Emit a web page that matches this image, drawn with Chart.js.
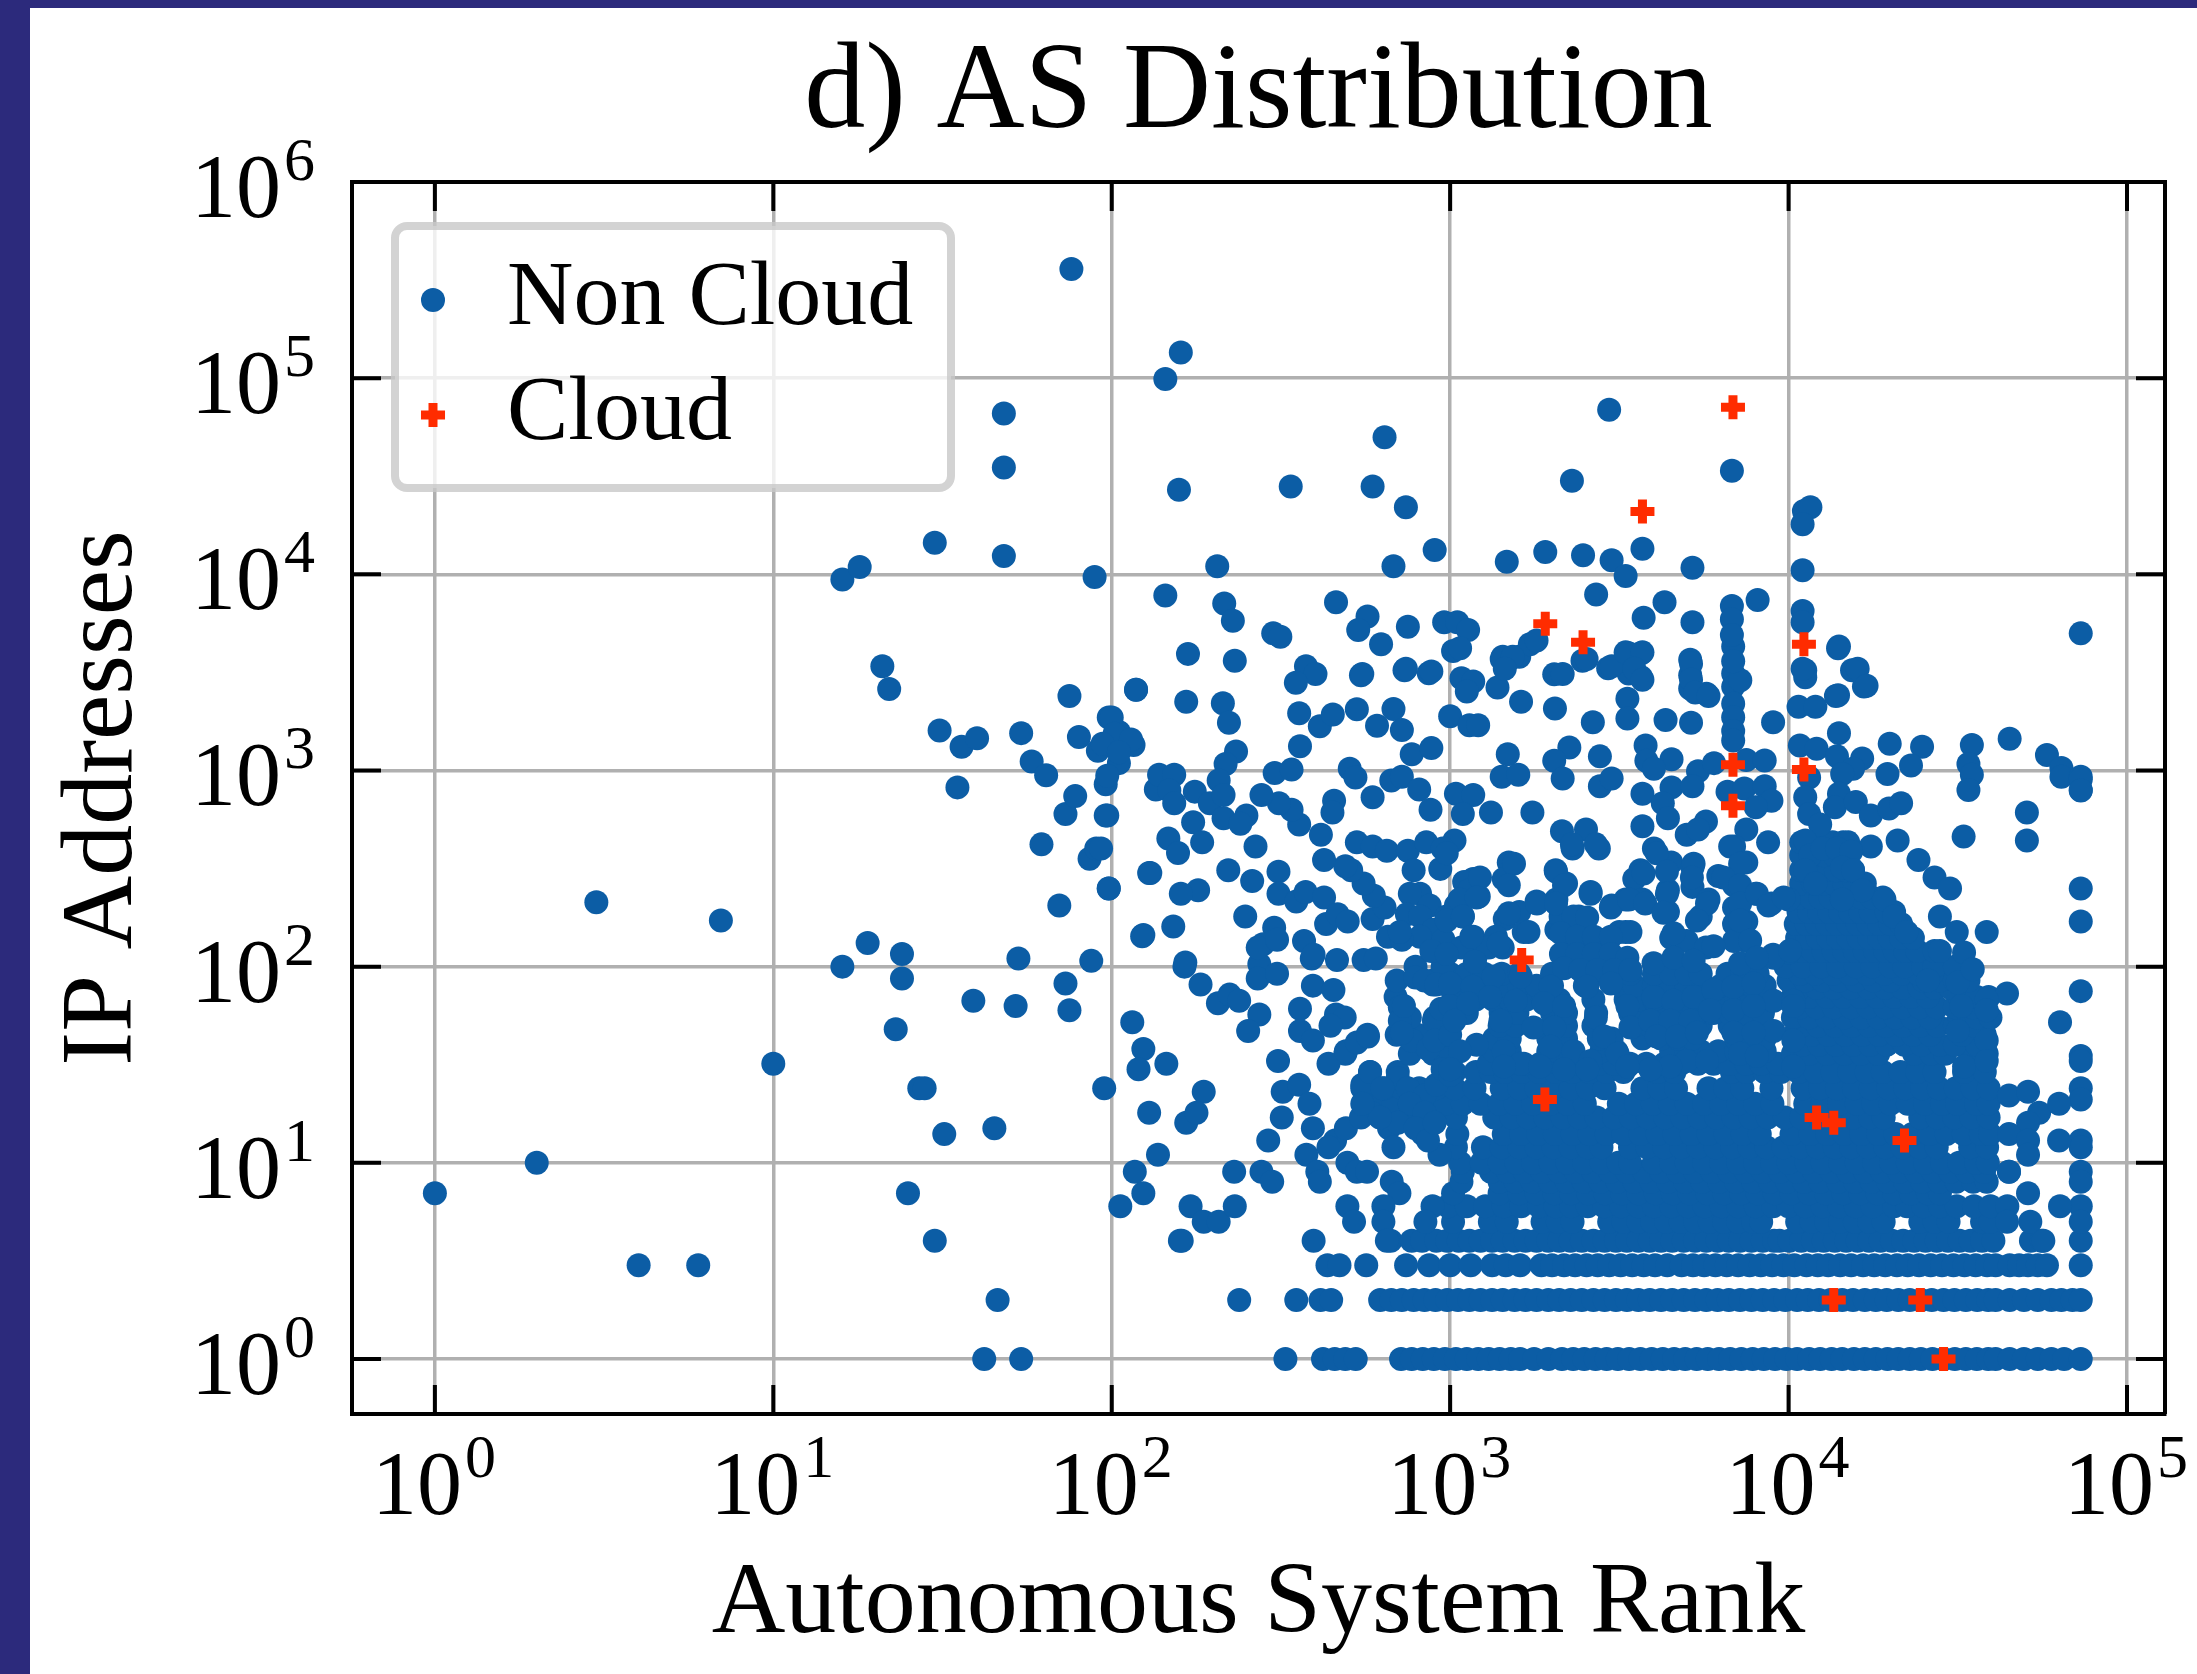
<!DOCTYPE html>
<html>
<head>
<meta charset="utf-8">
<script src="https://cdn.jsdelivr.net/npm/chart.js@4"></script>
<style>
  html, body { margin: 0; background: #2c2a7c; overflow: hidden; }
  #sheet { position: absolute; left: 30px; top: 8px; width: 2167px; height: 1666px; background: #fff; }
</style>
</head>
<body>
<div id="sheet"><canvas id="chart" width="2167" height="1666"></canvas></div>
<script>
// Tick values and labels (base 10, exponent drawn raised)
const xTickValues = [1, 10, 100, 1000, 10000, 100000];
const xTickExponents = ['0', '1', '2', '3', '4', '5'];
const yTickValues = [1, 10, 100, 1000, 10000, 100000, 1000000];
const yTickExponents = ['0', '1', '2', '3', '4', '5', '6'];

// Cloud ASes, [rank, ip addresses]
const cloudPoints = [[6850,71000],[3700,20900],[1910,5600],[2470,4500],[11100,4400],[6850,1070],[11100,1010],[6850,660],
  [1627,108],[1905,21],[12100,17],[13600,16],[22000,13],[13600,2],[24500,2],[28700,1]];

// Non cloud: ranks sitting on the low integer rows
const ranksAt1 = [326,421,456,490,526,716,770,830,895,965,1040,1120,1210,1300,1400,1510,1610,1770,1950,2140,2310,2490,2690,2900,3130,3380,3650,3940,4250,4590,4950,5350,5770,6230,6720,7250,7830,8450,9120,9850,10600,11500,12400,13400,14400,15600,16800,18100,19600,21100,22800,24600,26600,28700,31000,33400,36000,38900,40900,45000,49600,54500,59800,65200,73000];
const ranksAt2 = [238,351,414,445,621,670,720,780,840,905,980,1055,1140,1230,1330,1430,1550,1670,1800,1950,2100,2270,2450,2650,2860,3090,3330,3600,3890,4200,4530,4900,5290,5710,6170,6660,7190,7770,8390,9060,9780,10600,11400,12300,13300,14400,15500,16800,18100,19500,21100,22800,24600,26500,28700,30900,33400,36100,38900,40900,45000,49600,54500,59800,64000,69000,73000];
const ranksAt3 = [4,6,434,471,565,741,867,1000,1150,1330,1460,1610,1860,2000,2170,2340,2530,2730,2950,3190,3450,3730,4030,4380,4830,5220,5630,6080,6570,7100,7670,8280,8940,9660,10400,11300,12200,13100,14200,15300,16600,17900,19300,20900,22500,24300,26300,28400,30700,33100,35700,38600,40900,45000,48000,51000,54500,58000,73000];
const ranksAt4 = [30,159,395,667,770,826,910,980,1060,1140,1230,1330,1430,1550,1670,1800,1950,2100,2270,2450,2650,2860,3090,3330,3600,3890,4200,4530,4900,5290,5710,6170,6660,7190,7770,8390,9060,9400,10050,10900,11800,12700,13700,14800,16000,17300,18700,20200,21800,23500,25400,27400,29600,32000,34500,37300,40300,52000,56000,73000];

// Non cloud: dense body, one list of ranks per ip address level
const bodyLevels = [5,6,7,8,9,10,12,14,17,20,24,29,32,36,37,40,43,45,50,55,58,62,68,70,78,80,85,92,100,120,140,165,190,225,265,310,370,430];
const bodyRanks = [
  [1020,1310,1470,1875,2080,2300,2950,3250,3600,3950,4350,4800,5300,5850,6450,7100,7850,8300,10600,11700,12900,14200,15700,17300,19100,24500,27000,29700,37300,39500],
  [985,1120,1270,1440,1620,1830,2050,2280,2550,2850,3200,3600,4000,4500,5050,5650,6350,7100,8000,9000,10000,11200,12600,14100,15800,17700,20500,22400,25000,28000,31400,35300,39500,44300],
  [1020,1400,1600,1800,2030,2280,2560,2870,3220,3600,4050,4550,5100,5750,6450,7250,8100,9100,10200,11500,12900,14500,16300,18300,20500,23000,25800,28000],
  [1080,1400,1560,1750,1970,2210,2480,2780,3120,3500,3930,4410,4950,5550,6230,6990,7850,8800,9880,11100,12400,14000,15700,17600,19700,22100,24800,27900,31300,35100,38500],
  [1090,1320,1480,1660,1870,2100,2350,2640,2970,3330,3740,4200,4720,5290,5940,6670,7490,8410,9440,10600,11900,13400,15000,16800,18900,21200,23800,26700,30000,33700,37800,44800],
  [1070,1240,1400,1570,1760,1980,2220,2490,2800,3140,3400,4000,4500,5000,5630,6320,7090,7960,8940,10000,11300,12600,14200,15900,17900,20100,22500,25300,28400,31900,35800,38800],
  [1040,1250,1420,1600,1800,2020,2270,2550,2800,3400,3820,4290,4820,5410,6080,6820,7660,8600,9660,10800,12200,13700,15300,17200,19300,21700,24400,27400,34400,38600],
  [1050,1440,1620,1820,2040,2300,2580,2900,3250,3650,4100,4600,5170,5800,6520,7320,8220,10200,11600,13000,14600,16400,18400,20700,23200,26100,29300,32900,37000,39400],
  [660,780,900,1040,1350,1520,1700,1910,2150,2410,2710,3050,3420,3840,4320,4850,5450,6120,6880,7730,8680,9750,10900,12300,13800,15500,17400,19100,24500,27500,30900,34700,39000],
  [600,680,760,860,970,1090,1230,1400,1560,1760,1980,2220,2500,3150,3540,3970,4460,5000,5630,6320,7100,7970,8960,11200,12600,14100,15900,17800,20000,22500,25300,28400,31500,35800,39000],
  [550,640,720,810,910,1030,1180,1420,1600,1800,2020,2270,2550,2860,3700,4150,4650,5800,6500,7300,8900,11000,12400,13900,15600,17500,19700,22100,24800,27800,31200,35000,39000],
  [580,700,1030,1190,1320,1450,1630,1830,2050,2300,2580,2900,3250,4100,4600,6800,7500,8500,9500,10700,12000,13500,15100,17000,19000,21400,24000,27000,33000,38000],
  [1000,1300,1450,1650,1850,2100,2400,2750,3050,3400,3800,4300,4800,5400,6000,6700,7500,8300,9300],
  [490,760,890,10300,11500,13000,14600,16400,18400,23500,26400,29000,34500,38500],
  [1000,1350,1500,1950,2200,2800,3100,4500,5000,5500,6200,7000,7800,8500],
  [11000,12300,13800,15500,17400,19500,22000,24700,28000,31000,36000],
  [1350,1500,1950,2200,2750,3000,3700,4200,4700,5200,7000,7800,8500],
  [570,695,800,950,10400,11700,13100,14700,16500,18500,20800,23300,26200,32500,38000],
  [1000,1400,1560,2000,2200,2650,3500,3900,4400,4900,5500,6700,7500,8400,10900,12200,13700,15400,17300,19400,21800,24500,27500,31000,35500],
  [760,900,10300,11500,13000,14600,16400,18400,20700,23200,26100,32000,36000,39500],
  [1000,1120,1410,1580,2000,2200,2700,3400,3800,4300,4800,5400,6000,6700,7500,8400],
  [10800,12100,13600,15300,17200,19300,21700,24400,27400,31000,35000],
  [1060,1190,1340,1500,1680,1880,2100,2650,3300,3600,4000,4500,5000,5600,6300,7000,7800,8800],
  [690,10300,11500,13000,14500,16300,18300,20500,23000,25800,32000,36000,39000],
  [10800,12100,13600,15300,17200,19300,21700,24400,27000,30000],
  [1000,1120,1260,1420,1600,1800,2000,2500,3200,3500,4000,4500,5000,5600,6300,7000,7800,8500,10300],
  [695,890,10000,11200,12600,14100,15800,17800,20000,25000,28000,31000,34000],
  [1000,1120,1260,1420,1600,2000,2500,2800,3100,3400,4000,4500,5000,5500,6600,7300,8100,10800,12000,13500,15200,17100,19200,21600,24200,26500],
  [790,950,9800,11000,12500,14000,15800,17700,20000,22000,25000,27000,31000],
  [10300,11000,11800,12700,13600,14600,15700,16800,18000,19300,20600,22100,24000,27000],
  [10600,11400,12200,13100,14000,15000,16100,17300,18500,19900,21500,23300],
  [10500,11300,12100,13000,13900,15000,16000,17200,18500,20000,21500],
  [10700,11500,12300,13200,14200,15200,16300,17500,19500,20500],
  [10800,11600,12400,13300,14300,15300,16400,17600,19000],
  [10900,11800,12700,13600,14600,15700,16800],
  [10900,11800,12800,13800,14800,15500],
  [10900,11800,12700,13700,14700],
  [10900,11700,12500,13500,14500,15000]
];

// Non cloud: low ranks, [rank, ip addresses]
const headPoints = [[1,7],[2,10],[3,213],[7,172],[10,32],[16,9400],[18,10900],[16,100],[19,132],[21,3400],[22,2600],
  [24,116],[24,87],[23,48],[27,24],[28,24],[32,14],[25,7],[30,14500],[31,1600],[36,1320],[40,1460],[35,820],
  [48,66000],[48,35000],[48,12400],[39,67],[45,15],[46,2],[42,1],[54,1],[53,110],[52,63],[54,1550],[58,1110],[64,945],
  [62,420],[70,205],[73,82],[75,60],[75,2400],[73,600],[78,740],[80,1480],[76,360000],[86,355],[87,107],[89,9700],
  [90,400],[91,1260],[95,24],[96,850],[96,590],[98,1860],[98,250],[105,1570],[105,1090],[116,1350],[118,2580],[124,145],
  [130,300],[135,800],[144,99000],[144,7800],[158,27000],[160,135000]];

// Non cloud: scattered points above and left of the body
const scatterLeft = [[164,100],[183,81],[206,65],[223,72],[238,67],[273,57],[253,47],[115,52],[124,38],[120,30],[145,32],
  [129,18],[187,23],[166,16],[178,18],[137,11],[117,9],[124,7],[106,6],[230,9],[277,9],[298,8],[171,6],[187,5],[207,5],
  [231,6],[161,4],[290,13],[310,33],[320,23],[358,25],[318,17],[384,20],[393,15],[273,103],[270,87],[308,92],[390,110],
  [463,108],[555,108],[603,110],[393,80],[452,76],[360,61],[460,57],[488,55],[443,50],[360,47],[393,42],[437,32],[492,37],
  [530,41],[572,44],[376,11],[405,9],[412,8],[497,10],[530,9],[568,9],[672,8],[708,7],[497,6],[520,5],[635,6],[635,5],
  [887,6],[845,5],[650,4],[550,25],[580,29],[700,27],[750,24],[840,22],[585,18],[660,15],[680,12],[830,14],[930,11],
  [457,13],[437,12],[492,15],[545,17],[710,62],[890,81],[790,88],[895,53],[630,24],[760,20],[840,18],[700,16],[790,15],
  [860,13],[900,16],[620,17],[550,20],[910,25],[950,30],[1000,28],[710,53],[770,42],[860,38],[730,63],[720,46],[900,42],
  [1000,45],[940,61],[840,85],[910,81],[1020,73],[1070,65]];
const scatterMiddle = [[168,3930],[231,3630],[118,2580],[166,2240],[213,2200],[222,1750],[100,1860],[102,1540],[114,1440],
  [94,1370],[105,1240],[97,940],[97,590],[93,400],[98,250],[233,1250],[217,1080],[207,890],[138,950],[153,950],[148,790],
  [153,680],[176,780],[195,680],[214,750],[214,570],[250,590],[240,535],[174,545],[147,450],[157,380],[185,430],[266,410],
  [129,300],[221,310],[260,273],[311,305],[311,235],[351,215],[374,240],[424,225],[180,245],[160,235],[248,180],[152,160],
  [123,143],[302,158],[280,130],[370,135],[395,115],[165,105],[270,125],[308,137],[430,165],[465,185],[498,170],[590,175],
  [640,200],[595,230],[555,265],[510,310],[490,325],[424,350],[415,470],[358,530],[340,630],[312,680],[277,750],[454,700],
  [449,610],[303,970],[340,1010],[360,1330],[358,1960],[412,1680],[450,1930],[530,2050],[608,1690],[680,2060],[720,1610],
  [770,1210],[880,1300],[505,1020],[525,920],[590,730],[670,890],[720,930],[810,800],[875,630],[1040,760],[1170,750],
  [1090,600],[1320,610],[1750,610],[530,430],[590,410],[650,390],[750,390],[850,430],[1030,440],[950,400],[780,310],
  [935,315],[1490,340],[1440,280],[1170,280],[1100,270],[733,3240],[865,3130],[545,3060],[1020,4070],[1080,2950],
  [1170,2840],[1120,2530],[1380,2650],[1620,2240],[2040,2070],[2030,3090],[2460,3630],[2930,3320],[2640,1760],[1000,1890],
  [1140,1700],[1210,1700],[1480,1210],[2250,1310],[2030,1120],[2770,1180],[1420,930],[1590,950],[2150,910],[2770,830],
  [3000,910],[1430,3800],[1500,3700],[1600,3800],[1720,4400],[2140,490],[2300,400],[2520,500],[2750,400],[2050,310],
  [2200,265],[2600,240],[3000,205],[1800,215],[1600,190],[1450,175],[1650,150],[2060,220],[2400,180],[815,235],[760,235],
  [870,205],[745,185],[815,180],[891,154],[815,142],[975,180],[1040,205],[1140,245],[1215,228],[1090,180],[1170,142],
  [955,137],[655,142],[720,137],[1365,142],[1430,125],[1190,113],[2060,154],[2280,137],[2550,142],[2870,137],[3160,150],
  [2450,165],[2120,180],[710,150],[880,120],[1080,125],[1300,125]];
const scatterRight = [[3670,3960],[3370,3960],[3370,3470],[3660,3000],[3370,3120],[3340,2320],[3340,1840],[5120,3670],
  [5120,3060],[5120,2620],[5720,2460],[4330,1810],[5150,1750],[6860,4290],[6860,3120],[6860,2670],[6860,2190],[6860,1870],
  [6860,1590],[6860,1420],[7200,2880],[6860,3600],[9000,1760],[11200,3240],[11200,2990],[14090,4290],[15400,3240],
  [16700,2680],[14000,2420],[10700,2110],[12000,2110],[14090,1550],[10800,1340],[12100,1290],[11500,920],[19900,1370],
  [24800,1320],[23000,1060],[19600,960],[34800,1350],[34000,1080],[34800,950],[34000,795],[45000,1450],[58000,1200],
  [64000,1030],[64000,930],[73000,930],[73000,795],[50600,610],[50600,440],[32900,460],[21000,440],[17500,410],[24200,350],
  [27000,285],[30000,250],[28000,180],[31400,150],[38500,150],[33000,118],[28000,120],[13900,1180],[16500,1150],[15500,1020],
  [14400,960],[14090,760],[13700,650],[15800,690],[17500,590],[19800,640],[21500,680],[11200,730],[11500,600],[12400,530],
  [11200,440],[11600,370],[12600,400],[13900,400],[15300,385],[14400,320],[15500,310],[11200,310],[12000,265],[16500,245],
  [14400,220],[19200,220],[20500,180],[22300,150],[3780,1340],[3800,1120],[4510,1140],[4000,1020],[3700,760],[4510,820],
  [5400,990],[6020,1090],[7500,1130],[8500,1125],[5200,830],[4250,680],[6600,780],[7400,810],[8500,830],[8900,700],[8000,650],
  [3700,520],[4400,570],[5000,470],[5700,550],[5400,500],[7500,500],[6900,410],[8700,430],[7500,340],[4000,400],[4500,340],
  [5200,320],[3650,310],[3500,280],[6200,290],[6900,260],[8000,235],[8900,210],[10000,220],[3300,220],[3700,220],[4400,245],
  [5200,255],[5800,220],[4400,190],[5500,180],[3300,150],[4500,140],[5000,135],[5700,125],[6900,200],[6900,165],[7500,170],
  [7500,135],[6900,135],[9000,115],[10000,118]];
const scatterTop = [[338,28000],[590,28000],[640,50000],[740,22000],[680,11000],[205,11000],[900,13300],[1470,11600],
  [1910,13000],[2290,30000],[2950,69000],[2470,12500],[3000,11800],[3300,9800],[3700,13500],[5200,10800],[6800,33700],
  [2700,7900],[215,7100],[460,7200],[228,5800],[300,5000],[315,4800],[570,6100],[535,5200],[750,5400],[625,4400],[960,5700],
  [1050,5700],[1130,5200],[1070,4200],[375,3400],[400,3100],[350,2800],[550,3100],[740,3300],[880,3200],[1420,3700],
  [1530,3800],[1450,3300],[1800,4600],[2530,3700],[3730,6000],[4300,7200],[5200,5700],[3000,3400],[3300,4000],[3700,4000],
  [3500,3300],[3700,2900],[2150,3100],[5150,3500],[5150,2900],[5300,2500],[5800,2400],[6800,6900],[6800,5900],[6800,4900],
  [8100,7400],[11000,6500],[11000,5700],[11000,3300],[11100,21000],[11600,22000],[11000,18000],[11000,10500],[14000,4200],
  [16000,3300],[17000,2700],[13800,2400]];
// Non cloud: the last rank column and the thin right edge
const scatterEdge = [[73000,5000],[73000,900],[73000,790],[73000,250],[73000,170],[73000,75],[73000,35],[73000,33],[73000,24],
  [73000,21],[73000,13],[73000,12],[73000,9],[73000,8],[73000,6],[73000,5],[44200,73],[63400,52],[55000,18],[51000,16],
  [44800,22],[51000,23],[44800,14],[51000,13],[63000,20],[63000,13],[51000,11],[44800,9],[51000,7],[63400,6],[44200,5],[51800,5],
  [56600,4],[38500,68],[38500,60],[31600,83],[25800,85],[32400,63],[31600,47],[38500,42],[33000,31],[38500,33],[35000,97]];
// Non cloud: middle of the body, 400 down to 30 addresses
const scatterBody = [[977,378],[1225,285],[1544,335],[1490,260],[1066,220],[1197,225],[977,172],[1090,180],[1155,142],[1391,131],
  [1183,106],[977,116],[1490,187],[1704,150],[1805,210],[2055,305],[2170,260],[2055,210],[2315,180],[2540,178],[2600,235],
  [2985,200],[3375,220],[3770,210],[3410,150],[2290,420],[2695,420],[2125,148],[2370,142],[2660,142],[2985,142],[2125,116],
  [2370,116],[2660,116],[2985,116],[3340,111],[2170,98],[2425,96],[2725,96],[3055,96],[3410,96],[2540,79],[2985,82],
  [4080,378],[4370,305],[3730,298],[4370,235],[4270,188],[4570,148],[5240,335],[5180,285],[5740,210],[5360,172],[6000,127],
  [6720,410],[7190,335],[6420,285],[7190,260],[7190,210],[7190,172],[7700,136],[8060,235],[8720,205],[9670,225],[9030,111],
  [10100,121],[3990,104],[4570,111],[5240,107],[7190,104],[8060,111],[3990,70],[4570,67],[5240,70],[6000,76],[6870,79],
  [7880,82],[9030,67],[10330,67],[3340,63],[3410,49],[3900,53],[4470,53],[5120,53],[5870,60],[6870,60],[7880,63],[9030,47],
  [4080,44],[4680,44],[5360,46],[6870,46],[7880,46],[7190,36],[8060,35],[10330,63],[10330,42],[10330,31],[5000,33],[5740,33],
  [4470,31],[3900,30],[1000,82],[1165,79],[1343,89],[1617,89],[1000,63],[1130,65],[1312,70],[1562,67],[1030,53],[1408,53],
  [1197,40],[1070,37],[1980,79],[1891,65],[2170,63],[1763,49],[2030,49],[1441,37],[1617,32],[1441,31],[1980,39],[2315,37],
  [2600,33],[1845,31],[2170,30],[2695,55],[2850,44],[3125,36],[3340,31],[2540,30],[1000,30]];

const nonCloudPoints = [];
[ranksAt1, ranksAt2, ranksAt3, ranksAt4].forEach((ranks, i) => ranks.forEach(r => nonCloudPoints.push({x: r, y: i + 1})));
bodyLevels.forEach((ip, i) => bodyRanks[i].forEach(r => nonCloudPoints.push({x: r, y: ip})));
[headPoints, scatterLeft, scatterMiddle, scatterRight, scatterTop, scatterEdge, scatterBody].forEach(list =>
  list.forEach(p => nonCloudPoints.push({x: p[0], y: p[1]})));

const FONT = '"Liberation Serif", serif';

// Inward ticks on all four sides plus the top and right spines
const frame = {
  id: 'frame',
  afterDatasetsDraw(chart) {
    const {ctx, chartArea: a, scales: {x, y}} = chart;
    const len = 29;
    ctx.save();
    ctx.strokeStyle = '#000';
    ctx.lineWidth = 4;
    ctx.beginPath();
    ctx.moveTo(a.left, a.top); ctx.lineTo(a.right, a.top); ctx.lineTo(a.right, a.bottom);
    xTickValues.forEach(v => {
      const px = x.getPixelForValue(v);
      ctx.moveTo(px, a.bottom); ctx.lineTo(px, a.bottom - len);
      ctx.moveTo(px, a.top); ctx.lineTo(px, a.top + len);
    });
    yTickValues.forEach(v => {
      const py = y.getPixelForValue(v);
      ctx.moveTo(a.left, py); ctx.lineTo(a.left + len, py);
      ctx.moveTo(a.right, py); ctx.lineTo(a.right - len, py);
    });
    ctx.stroke();
    ctx.restore();
  },
  // 10 with a raised exponent, placed from the scales
  afterDraw(chart) {
    const {ctx, chartArea: a, scales: {x, y}} = chart;
    const label = (left, base, exp) => {
      ctx.font = '90px ' + FONT;
      ctx.fillText('10', left, base);
      ctx.font = '62px ' + FONT;
      ctx.fillText(exp, left + 93, base - 37);
    };
    ctx.save();
    ctx.fillStyle = '#000';
    ctx.textAlign = 'left';
    ctx.textBaseline = 'alphabetic';
    xTickValues.forEach((v, i) => label(x.getPixelForValue(v) - 63, a.bottom + 100, xTickExponents[i]));
    yTickValues.forEach((v, i) => label(161, y.getPixelForValue(v) + 35, yTickExponents[i]));
    ctx.restore();
  }
};

// Move the legend to its spot and give it the rounded frame, over the grid
const legendFrame = {
  id: 'legendFrame',
  afterLayout(chart) {
    const lg = chart.legend;
    lg.left = 352; lg.top = 223; lg.right = 930; lg.bottom = 490;
    if (lg._framed) return;
    lg._framed = true;
    const draw = lg.draw.bind(lg);
    lg.draw = () => {
      const ctx = chart.ctx;
      ctx.save();
      ctx.beginPath();
      ctx.roundRect(365, 218, 556, 262, 12);
      ctx.fillStyle = 'rgba(255,255,255,0.8)';
      ctx.fill();
      ctx.lineWidth = 8;
      ctx.strokeStyle = 'rgba(200,200,200,0.8)';
      ctx.stroke();
      ctx.restore();
      draw();
    };
  }
};

new Chart(document.getElementById('chart'), {
  type: 'scatter',
  plugins: [frame, legendFrame],
  data: {
    datasets: [
      {label: 'Non Cloud', data: nonCloudPoints, order: 1, pointStyle: 'circle', pointRadius: 12, pointBorderWidth: 0,
       backgroundColor: '#0c5da5', borderColor: '#0c5da5', borderWidth: 0},
      {label: 'Cloud', data: cloudPoints.map(p => ({x: p[0], y: p[1]})), order: 0, pointStyle: 'cross', pointRadius: 12,
       pointBorderWidth: 9, backgroundColor: '#ff2c00', borderColor: '#ff2c00', borderWidth: 9}
    ]
  },
  options: {
    responsive: false,
    animation: false,
    layout: {autoPadding: false, padding: {right: 32}},
    plugins: {
      tooltip: {enabled: false},
      title: {display: true, text: 'd) AS Distribution', color: '#000', fullSize: false,
        font: {family: FONT, size: 122, weight: 'normal', lineHeight: 1}, padding: {top: 26, bottom: 26}},
      legend: {
        position: 'chartArea', align: 'start',
        labels: {usePointStyle: true, boxWidth: 56, boxHeight: 17, padding: 23, color: '#000',
          font: {family: FONT, size: 92, lineHeight: 1}, sort: (a, b) => a.datasetIndex - b.datasetIndex}
      }
    },
    scales: {
      x: {
        type: 'logarithmic', position: 'bottom', min: 0.569, max: 129500,
        afterBuildTicks(s) { s.ticks = xTickValues.map(v => ({value: v})); },
        afterFit(s) { s.height = 260; },
        grid: {color: '#b0b0b0', lineWidth: 3.5, drawTicks: false},
        border: {display: true, color: '#000', width: 4},
        ticks: {display: false},
        title: {display: true, text: 'Autonomous System Rank', color: '#000',
          font: {family: FONT, size: 102, lineHeight: 1}, padding: {top: 0, bottom: 18}}
      },
      y: {
        type: 'logarithmic', position: 'left', min: 0.524, max: 1000000,
        afterBuildTicks(s) { s.ticks = yTickValues.map(v => ({value: v})); },
        afterFit(s) { s.width = 322; },
        grid: {color: '#b0b0b0', lineWidth: 3.5, drawTicks: false},
        border: {display: true, color: '#000', width: 4},
        ticks: {display: false},
        title: {display: true, text: 'IP Addresses', color: '#000',
          font: {family: FONT, size: 102, lineHeight: 1}, padding: {top: 23, bottom: 0}}
      }
    }
  }
});
</script>
</body>
</html>
